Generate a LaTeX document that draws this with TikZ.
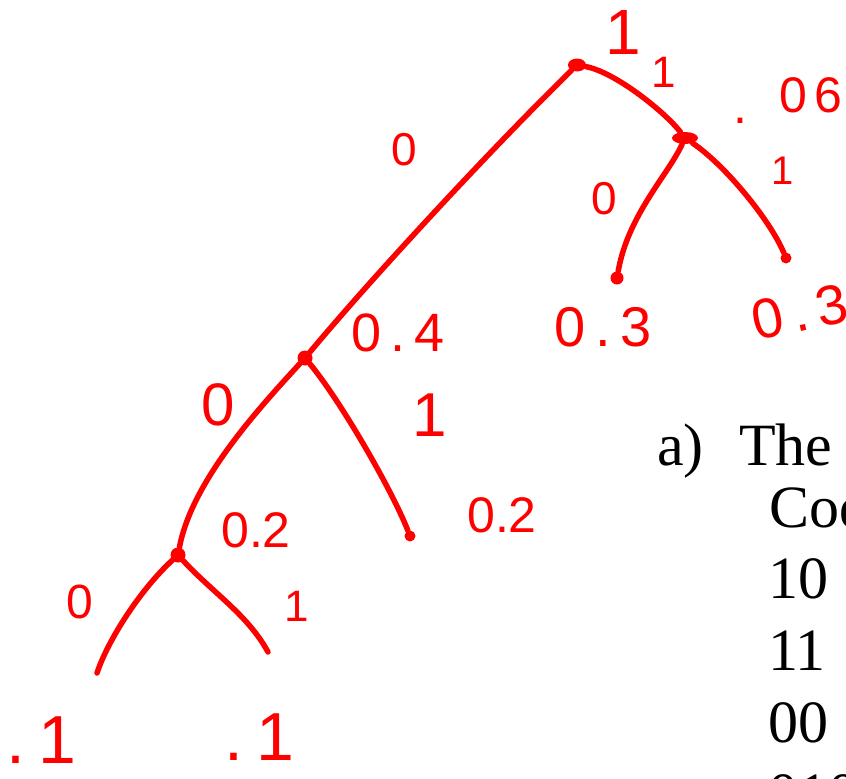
\documentclass[tikz,border=0pt]{standalone}
\usepackage{fontspec}
\setmainfont{Liberation Serif}
\newfontfamily\handfont{Liberation Sans}
\usetikzlibrary{positioning, shapes.geometric}
\definecolor{inkred}{RGB}{255, 0, 0}
\tikzset{
  ink/.style={draw=inkred, line width=5.5pt, line cap=round, line join=round},
  knot/.style={ellipse, fill=inkred, inner sep=0pt, minimum width=12pt, minimum height=12pt},
  bitlbl/.style={text=inkred, inner sep=0pt, font=\handfont\fontsize{#1}{#1}\selectfont},
  bitlbl/.default=46,
  problbl/.style={text=inkred, inner sep=0pt, font=\handfont\fontsize{#1}{#1}\selectfont},
  problbl/.default=52,
  printed/.style={anchor=base west, inner sep=0pt, font=\fontsize{60}{60}\selectfont},
}

\begin{document}
\begin{tikzpicture}[x=1pt, y=-1pt]
    \useasboundingbox (0,0) rectangle (846,779);

    % tree
    \node[knot, minimum width=18pt, minimum height=13pt] (root) at (577,65) {};
    \node[knot, minimum width=26pt, minimum height=12pt] (n06) at (685,138) {};
    \node[knot, minimum width=13pt, minimum height=13pt] (leafa) at (617,278) {};
    \node[knot, minimum width=11pt, minimum height=11pt] (leafb) at (786,258) {};
    \node[knot, minimum width=15pt, minimum height=15pt] (n04) at (305,358) {};
    \node[knot, minimum width=11pt, minimum height=11pt] (leafc) at (410,536) {};
    \node[knot, minimum width=15pt, minimum height=15pt] (n02) at (178,555) {};
    \coordinate (enda) at (97,673);
    \coordinate (endb) at (268,652);

    \draw[ink] (root) .. controls (490,150) and (370,280) .. (n04);
    \draw[ink] (root) .. controls (615,72) and (665,112) .. (n06);
    \draw[ink] (n06) .. controls (668,175) and (628,215) .. (leafa);
    \draw[ink] (n06) .. controls (725,165) and (770,220) .. (leafb);
    \draw[ink] (n04) .. controls (262,405) and (192,480) .. (n02);
    \draw[ink] (n04) .. controls (340,400) and (392,490) .. (leafc);
    \draw[ink] (n02) .. controls (140,590) and (108,640) .. (enda);
    \draw[ink] (n02) .. controls (212,592) and (248,615) .. (endb);

    % probabilities
    \node[problbl=64] (p1) at (623,32) {1};
    \node[problbl=50, anchor=base west] (p06) at (733,112) {\raisebox{-11pt}{.}\hspace{32pt}0\hspace{8pt}6};
    \node[problbl=56] (p03a) at (603,327) {0\,.\,3};
    \node[problbl=56, rotate=12] (p03b) at (800,312) {0\,.\,3};
    \node[problbl=54] (p04) at (398,333) {0\,.\,4};
    \node[problbl=50] (p02a) at (256,530) {0.2};
    \node[problbl=50] (p02b) at (502,515) {0.2};
    \node[problbl=68, anchor=base west] (p01a) at (6,763) {.\hspace{13pt}1};
    \node[problbl=68, anchor=base west] (p01b) at (224,760) {.\hspace{13pt}1};

    % bits
    \node[bitlbl=44] (ba) at (664,72) {1};
    \node[bitlbl=40] (bb) at (783,171) {1};
    \node[bitlbl] (bc) at (604,199) {0};
    \node[bitlbl] (bd) at (404,150) {0};
    \node[bitlbl=60] (be) at (218,405) {0};
    \node[bitlbl=62] (bf) at (430,415) {1};
    \node[bitlbl=48] (bg) at (80,602) {0};
    \node[bitlbl=44] (bh) at (297,606) {1};

    % printed answer
    \node[printed] (qa) at (657,465) {a)};
    \node[printed] (qthe) at (739,465) {The};
    \node[printed] (qcode) at (769,527) {Cod};
    \node[printed] (c10) at (768,598) {10};
    \node[printed] (c11) at (768,670) {11};
    \node[printed] (c00) at (768,742) {00};
    \node[printed] (c010) at (768,814) {010};
\end{tikzpicture}
\end{document}
